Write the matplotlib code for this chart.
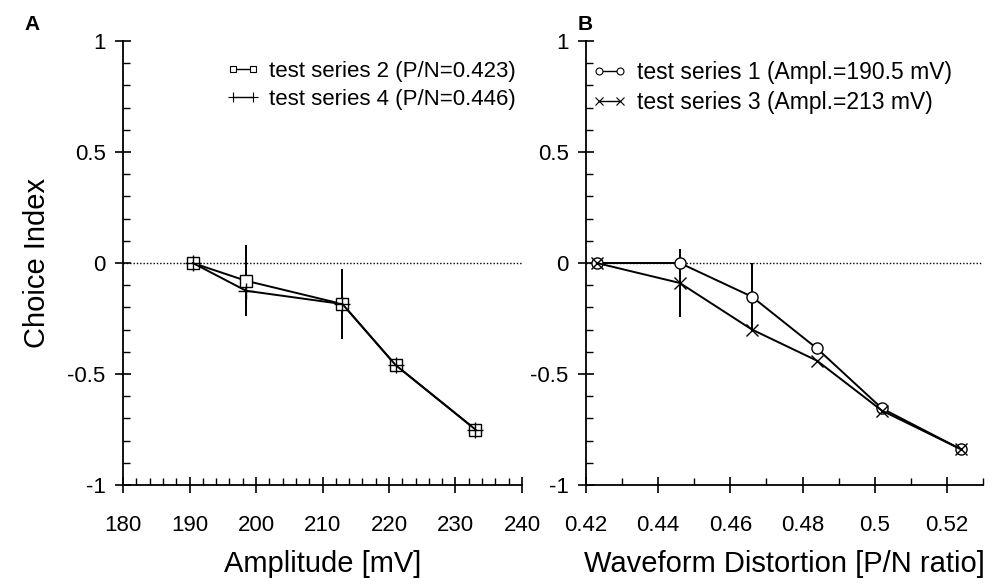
import matplotlib
matplotlib.use("Agg")
import matplotlib.pyplot as plt
from matplotlib.ticker import MultipleLocator, FixedLocator
from matplotlib.lines import Line2D

plt.rcParams['font.family'] = ['Liberation Sans', 'DejaVu Sans']

# Panel A data
amp = [190.5, 198.5, 213, 221, 233]
ci_s2 = [0.0, -0.08, -0.185, -0.46, -0.75]
ci_s4 = [0.0, -0.125, -0.185, -0.46, -0.75]
err_s2 = [0.0, 0.16, 0.158, 0.0, 0.0]

# Panel B data
pn = [0.423, 0.446, 0.466, 0.484, 0.502, 0.524]
ci_s1 = [0.0, 0.0, -0.152, -0.385, -0.655, -0.84]
ci_s3 = [0.0, -0.09, -0.30, -0.44, -0.665, -0.84]
err_s1 = [0.0, 0.0, 0.15, 0.0, 0.0, 0.0]
err_s3 = [0.0, 0.155, 0.0, 0.0, 0.0, 0.0]

labels_A = ["test series 2 (P/N=0.423)", "test series 4 (P/N=0.446)"]
labels_B = ["test series 1 (Ampl.=190.5 mV)", "test series 3 (Ampl.=213 mV)"]

W, H = 1001, 585
fig = plt.figure(figsize=(W / 100, H / 100), dpi=100)

def px_axes(l, r, t, b):
    return fig.add_axes([l / W, 1 - b / H, (r - l) / W, (b - t) / H])

axA = px_axes(123, 522, 41, 485)
axB = px_axes(586, 983, 41, 485)

lw = 1.4

def style(ax, xlim, xmin, xticks, xticklabels):
    ax.set_ylim(-1, 1)
    ax.set_xlim(*xlim)
    for s in ['top', 'right']:
        ax.spines[s].set_visible(False)
    for s in ['left', 'bottom']:
        ax.spines[s].set_linewidth(1.3)
    ax.yaxis.set_major_locator(FixedLocator([-1, -0.5, 0, 0.5, 1]))
    ax.set_yticklabels(['-1', '-0.5', '0', '0.5', '1'])
    ax.yaxis.set_minor_locator(MultipleLocator(0.1))
    ax.xaxis.set_major_locator(FixedLocator(xticks))
    ax.set_xticklabels(xticklabels)
    ax.xaxis.set_minor_locator(MultipleLocator(xmin))
    ax.tick_params(which='major', direction='inout', length=11, width=1.2,
                   labelsize=16)
    ax.tick_params(axis='x', which='major', pad=16)
    ax.tick_params(axis='y', which='major', pad=7)
    ax.tick_params(which='minor', direction='in', length=5, width=1.0)
    ax.axhline(0, color='black', lw=1.0, ls=(0, (1, 1.4)), zorder=1)

style(axA, (180, 240), 2, [180, 190, 200, 210, 220, 230, 240],
      ['180', '190', '200', '210', '220', '230', '240'])
style(axB, (0.42, 0.53), 0.01, [0.42, 0.44, 0.46, 0.48, 0.50, 0.52],
      ['0.42', '0.44', '0.46', '0.48', '0.5', '0.52'])

# Panel A
axA.plot(amp, ci_s2, color='black', lw=lw, marker='s', ms=8, mfc='white',
         mec='black', mew=1.0, zorder=3)
axA.plot(amp, ci_s4, color='black', lw=lw, marker='+', ms=11, mew=1.0, zorder=4)
axA.errorbar(amp, ci_s2, yerr=err_s2, fmt='none', ecolor='black', elinewidth=1.4,
             capsize=0, zorder=2)

# Panel B
axB.plot(pn, ci_s1, color='black', lw=lw, marker='o', ms=8, mfc='white',
         mec='black', mew=1.0, zorder=3)
axB.plot(pn, ci_s3, color='black', lw=lw, marker='x', ms=9, mew=1.0, zorder=4)
axB.errorbar(pn, ci_s1, yerr=err_s1, fmt='none', ecolor='black', elinewidth=1.4,
             capsize=0, zorder=2)
axB.errorbar(pn, ci_s3, yerr=err_s3, fmt='none', ecolor='black', elinewidth=1.4,
             capsize=0, zorder=2)

axA.set_xlabel('Amplitude [mV]', fontsize=21, labelpad=10)
axB.set_xlabel('Waveform Distortion [P/N ratio]', fontsize=21, labelpad=10)
axA.set_ylabel('Choice Index', fontsize=21, labelpad=12)

# Legends
hA = [Line2D([], [], color='black', lw=1.0, marker='s', ms=5, mfc='white', mew=0.8),
      Line2D([], [], color='black', lw=1.0, marker='+', ms=7, mew=0.8)]
hB = [Line2D([], [], color='black', lw=1.0, marker='o', ms=5, mfc='white', mew=0.8),
      Line2D([], [], color='black', lw=1.0, marker='x', ms=6, mew=0.8)]
fig.legend(hA, labels_A, loc='upper left', bbox_to_anchor=(226 / W, 1 - 61 / H),
           frameon=False, fontsize=16, handlelength=1.5, handletextpad=0.45,
           labelspacing=0.3, numpoints=2, borderpad=0, borderaxespad=0)
fig.legend(hB, labels_B, loc='upper left', bbox_to_anchor=(592 / W, 1 - 61 / H),
           frameon=False, fontsize=16.5, handlelength=1.5, handletextpad=0.45,
           labelspacing=0.3, numpoints=2, borderpad=0, borderaxespad=0)

fig.text(24 / W, 1 - 24 / H, 'A', fontsize=15, fontweight='bold', va='center', ha='left')
fig.text(578 / W, 1 - 24 / H, 'B', fontsize=15, fontweight='bold', va='center', ha='left')

fig.savefig('out.png', dpi=100)
